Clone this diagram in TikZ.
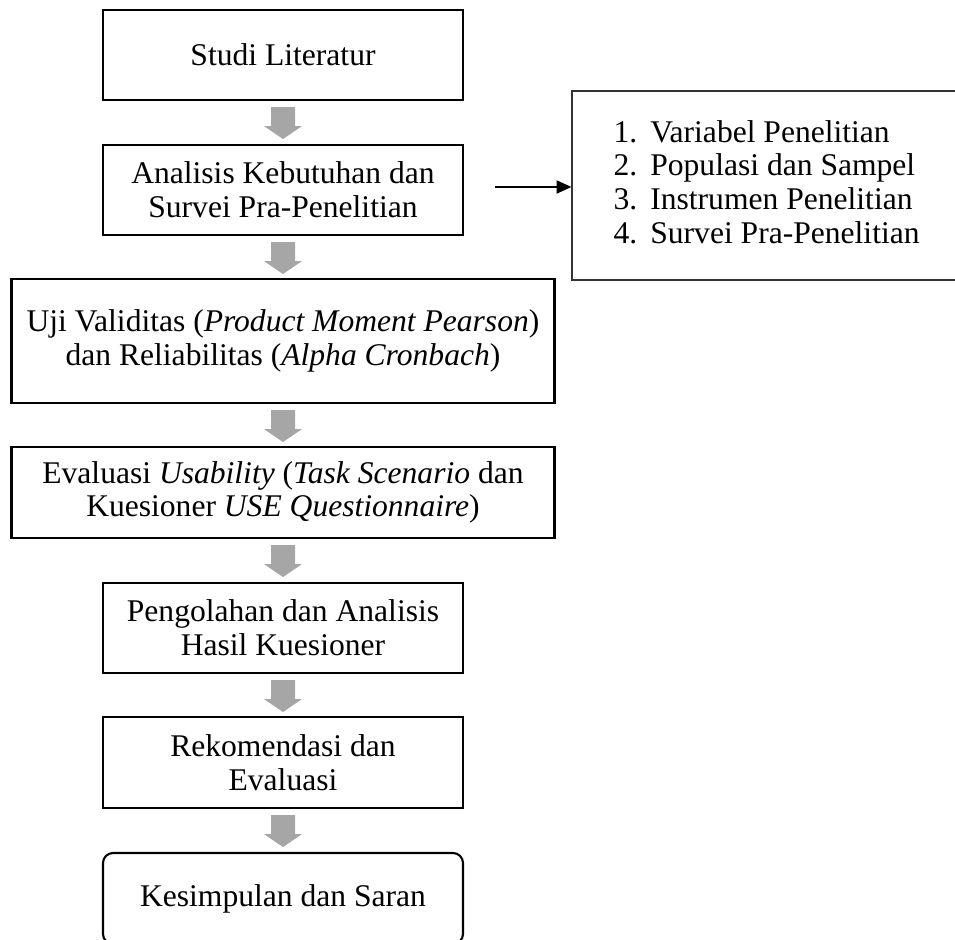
\documentclass[tikz,border=0pt]{standalone}
\usepackage{fontspec}
\setmainfont{Liberation Serif}
\usetikzlibrary{arrows.meta}
\def\px{0.38pt}
\definecolor{arrgray}{HTML}{A6A6A6}
\begin{document}
\begin{tikzpicture}[x=0.38pt,y=-0.38pt,
  every node/.style={font=\fontsize{12}{12.8}\selectfont},
  box/.style={draw=black,line width=0.8pt,align=center,inner sep=0pt,
    minimum width=360*\px,minimum height=90*\px},
  widebox/.style={box,minimum width=543*\px},
  endbox/.style={box,rounded corners=3.8pt},
  listbox/.style={draw=black!80,line width=0.5pt,inner sep=0pt,
    minimum width=400*\px,minimum height=189*\px},
  garrow/.pic={\fill[arrgray] (-12,0) -- (12,0) -- (12,19) -- (19,19) -- (0,32)
    -- (-19,19) -- (-12,19) -- cycle;},
  link/.style={line width=0.55pt,-{Triangle[length=5.6pt,width=5pt]}}
]
\useasboundingbox (0,0) rectangle (955,940);
\clip (0,0) rectangle (955,940);

\node[box] (b1) at (283,55) {Studi Literatur};
\node[box] (b2) at (283,190) {Analisis Kebutuhan dan\\Survei Pra-Penelitian};
\node[widebox,minimum height=124*\px] (b3) at (283,341)
  {Uji Validitas (\textit{Product Moment Pearson})\\dan Reliabilitas (\textit{Alpha Cronbach})};
\node[widebox,minimum height=91*\px] (b4) at (283,492.5)
  {Evaluasi \textit{Usability} (\textit{Task Scenario} dan\\Kuesioner \textit{USE Questionnaire})};
\node[box] (b5) at (283,628) {Pengolahan dan Analisis\\Hasil Kuesioner};
\node[box,minimum height=91*\px] (b6) at (283,762.5) {Rekomendasi dan\\Evaluasi};
\node[endbox,minimum height=91*\px] (b7) at (283,898.5) {Kesimpulan dan Saran};

\node[listbox] (rbox) at (772,185.5) {};
\node[anchor=west,inner sep=0pt,align=left] (list) at (613,182)
  {\makebox[14pt][l]{1.}Variabel Penelitian\\
   \makebox[14pt][l]{2.}Populasi dan Sampel\\
   \makebox[14pt][l]{3.}Instrumen Penelitian\\
   \makebox[14pt][l]{4.}Survei Pra-Penelitian};

\path (b1.south) ++(0,6) pic {garrow};
\path (b2.south) ++(0,6) pic {garrow};
\path (b3.south) ++(0,6) pic {garrow};
\path (b4.south) ++(0,6) pic {garrow};
\path (b5.south) ++(0,6) pic {garrow};
\path (b6.south) ++(0,6) pic {garrow};

\coordinate (astart) at (495,187);
\draw[link] (astart) -- (rbox.west |- astart);
\end{tikzpicture}
\end{document}
